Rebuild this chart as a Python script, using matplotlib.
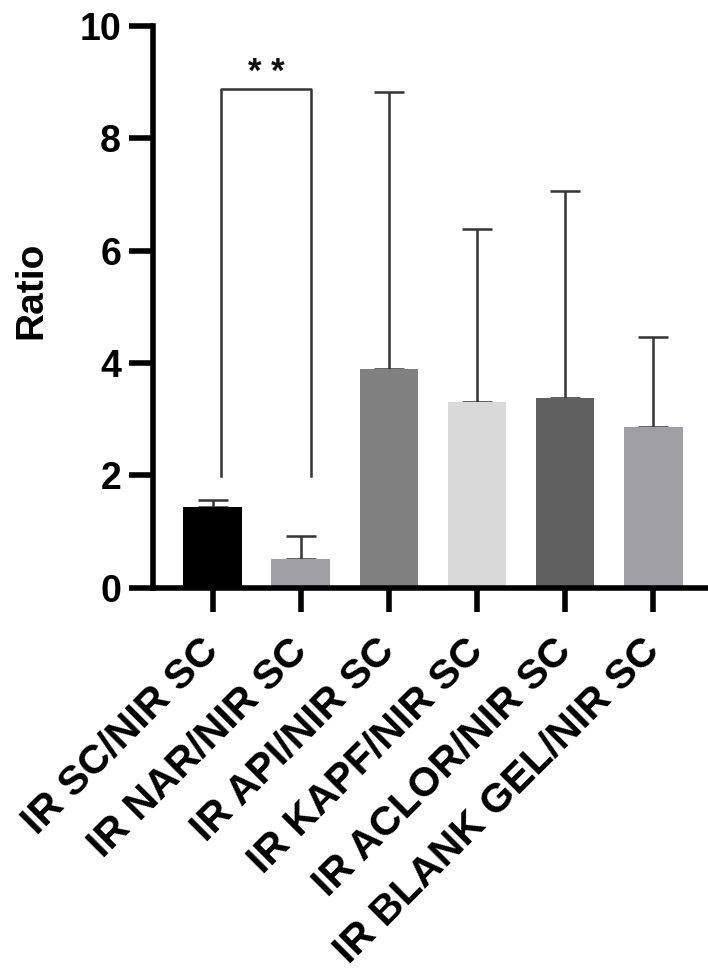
import matplotlib
matplotlib.use("Agg")
import matplotlib.pyplot as plt
import numpy as np

categories = ["IR SC/NIR SC", "IR NAR/NIR SC", "IR API/NIR SC",
              "IR KAPF/NIR SC", "IR ACLOR/NIR SC", "IR BLANK GEL/NIR SC"]
means = [1.43, 0.50, 3.90, 3.31, 3.38, 2.85]
upper_err = [0.13, 0.42, 4.92, 3.07, 3.68, 1.61]
colors = ["#000000", "#a09fa4", "#808080", "#d9d9d9", "#606060", "#a09fa4"]
yticks = [0, 2, 4, 6, 8, 10]
sig_pair = (0.10, 1.12)
sig_y_top = 8.87
sig_y_bottom = 1.98
sig_label = "* *"

plt.rcParams['font.family'] = ['Liberation Sans', 'DejaVu Sans']

fig = plt.figure(figsize=(7.08, 9.73), dpi=100)
ax = fig.add_axes([153/708, 1 - 587.5/973, 1 - 153/708, (587.5 - 26)/973])

x = np.arange(len(categories))
ax.bar(x, means, width=0.665, color=colors, zorder=2)
ax.errorbar(x, means, yerr=[np.zeros(len(means)), upper_err], fmt='none',
            ecolor="#333333", elinewidth=1.8, capsize=10.5, capthick=1.8, zorder=1)

# significance bracket
ax.plot([sig_pair[0], sig_pair[0], sig_pair[1], sig_pair[1]],
        [sig_y_bottom, sig_y_top, sig_y_top, sig_y_bottom],
        color="#333333", lw=1.8, clip_on=False)
ax.text((sig_pair[0] + sig_pair[1]) / 2, sig_y_top + 0.30, sig_label,
        ha='center', va='center', fontsize=25, fontweight='bold', color="#111111")

ax.set_xlim(-0.675, 5.62)
ax.set_ylim(0, 10)
ax.set_yticks(yticks)
ax.set_yticklabels([str(t) for t in yticks], fontsize=27, fontweight='bold')
ax.set_xticks(x)
ax.set_xticklabels(categories, rotation=45, ha='right', va='center',
                   rotation_mode='anchor', fontsize=29.5, fontweight='bold')
ax.set_ylabel("Ratio", fontsize=28, fontweight='bold')
ax.yaxis.set_label_coords(-0.186, 0.53)

for s in ['top', 'right']:
    ax.spines[s].set_visible(False)
for s in ['left', 'bottom']:
    ax.spines[s].set_linewidth(4)
    ax.spines[s].set_capstyle('projecting')
ax.tick_params(axis='both', width=4, length=17, color='black', pad=6)
ax.tick_params(axis='x', pad=24)

fig.savefig("out.png", dpi=100)
